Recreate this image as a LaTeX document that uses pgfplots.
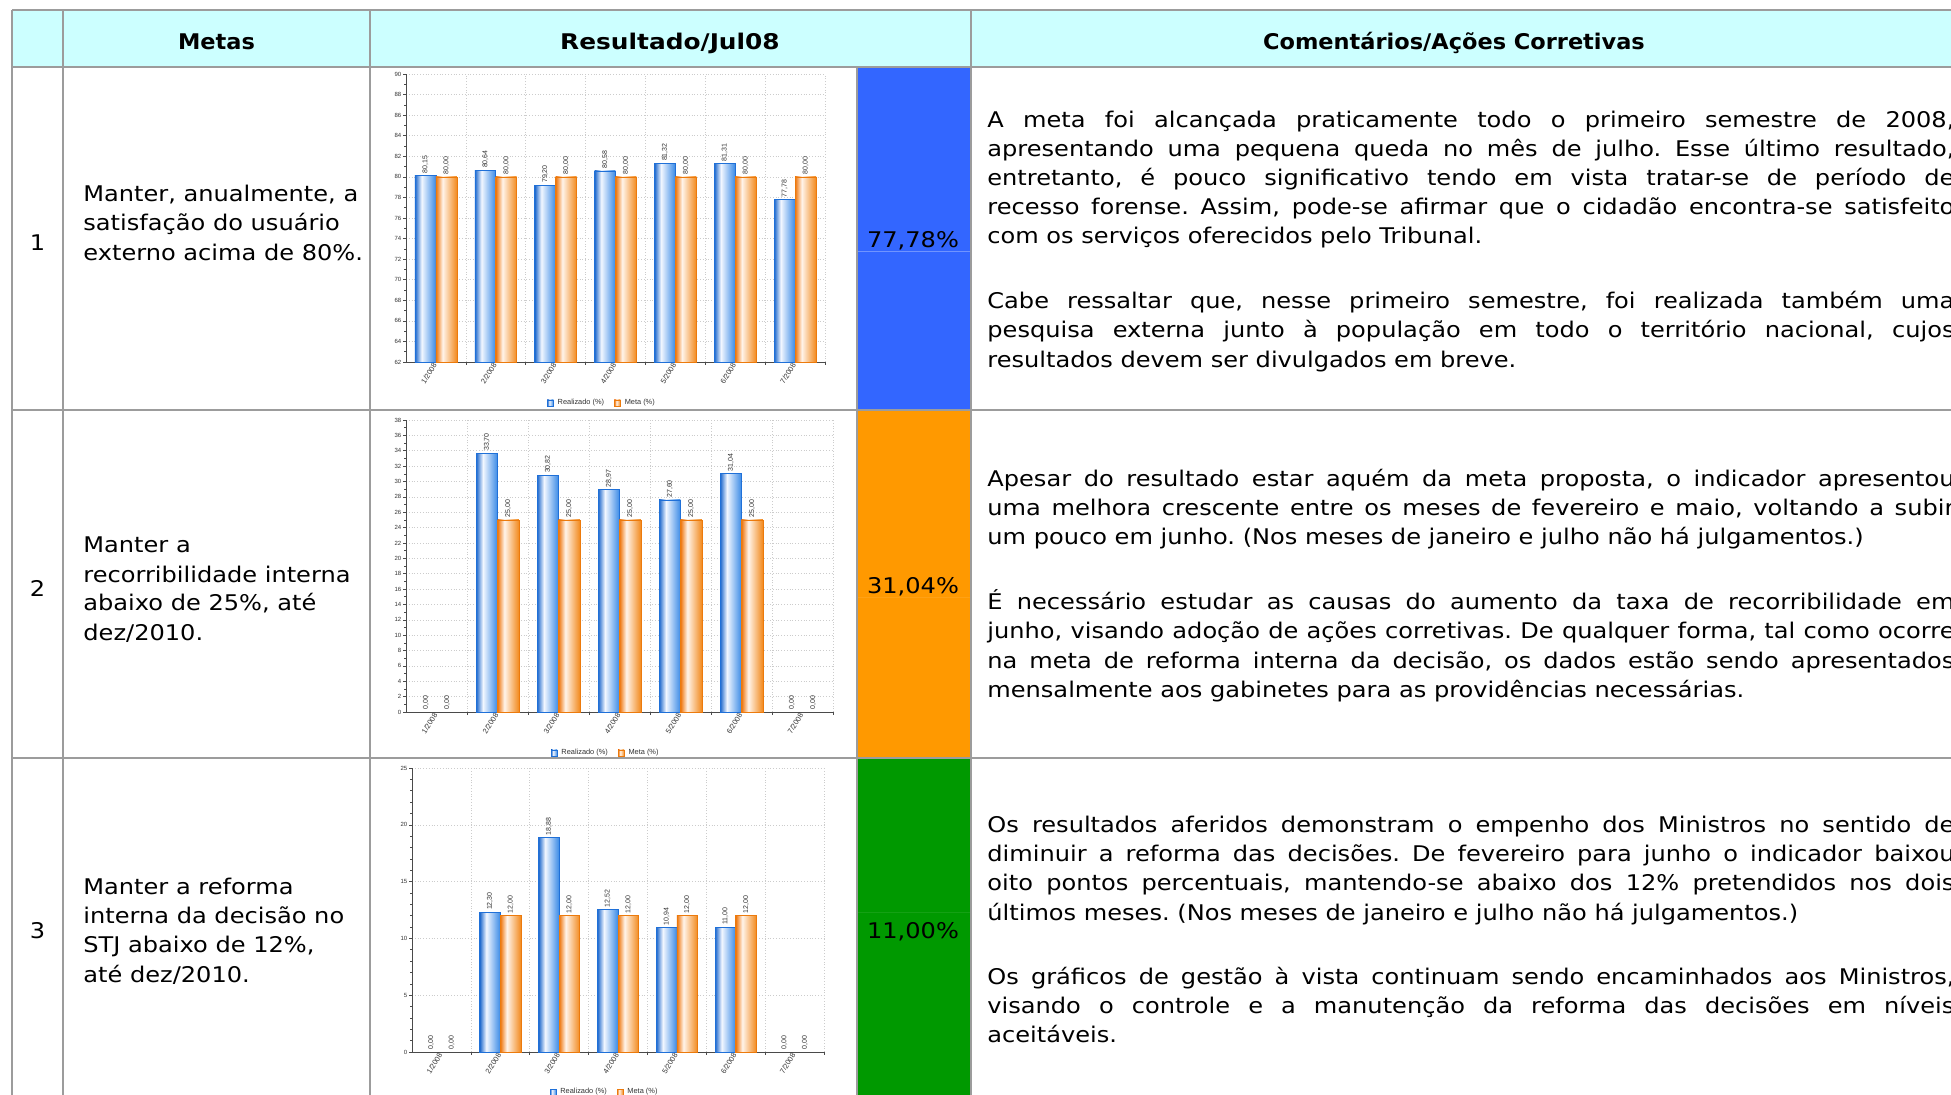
\documentclass[border=0pt]{standalone}
\usepackage{fontspec}
\setmainfont{DejaVu Sans}[FakeStretch=1.115]
\newfontfamily\hdrfont{DejaVu Sans}[FakeStretch=1.04]
\newfontfamily\hdrfontw{DejaVu Sans}[FakeStretch=1.15]
\newfontfamily\chartfont{Liberation Sans}
\usepackage{pgfplots}
\pgfplotsset{compat=1.18}
\definecolor{tline}{HTML}{9C9C9C}
\definecolor{hdr}{HTML}{CCFFFF}
\definecolor{cblue}{HTML}{3366FF}
\definecolor{corange}{HTML}{FF9900}
\definecolor{cgreen}{HTML}{009900}
\definecolor{bbL}{HTML}{1A66CC}
\definecolor{bbR}{HTML}{3A8AE6}
\definecolor{bbE}{HTML}{1F70D8}
\definecolor{bbW}{HTML}{F2F7FF}
\definecolor{boL}{HTML}{EE7308}
\definecolor{boR}{HTML}{F28A1E}
\definecolor{boE}{HTML}{EC7A0C}
\definecolor{boW}{HTML}{FFF4EA}
\definecolor{axdark}{HTML}{4A4A4A}
\definecolor{lab}{HTML}{333333}
\pgfdeclarehorizontalshading{bluebar}{100bp}{color(0bp)=(bbL); color(25bp)=(bbL); color(41bp)=(bbW); color(75bp)=(bbR); color(100bp)=(bbR)}
\pgfdeclarehorizontalshading{orangebar}{100bp}{color(0bp)=(boL); color(25bp)=(boL); color(41bp)=(boW); color(75bp)=(boR); color(100bp)=(boR)}
\newcommand\cf[1]{\chartfont\fontsize{#1}{#1}\selectfont}
\newcommand\tf{\fontsize{10.8}{14.6}\selectfont}
\newcommand\jl[1]{\makebox[483.5pt][s]{#1}}
\newcommand\RB[2]{\addplot[realstyle, forget plot] coordinates {(#1,#2)};}
\newcommand\MB[2]{\addplot[metastyle, forget plot] coordinates {(#1,#2)};}
\newcommand\ZB[2]{\addplot[bar shift=#2, draw=none, fill=none, forget plot] coordinates {(#1,0)};}
\pgfplotsset{
  chartstyle/.style={
    scale only axis, ybar, bar width=0.35,
    /pgf/number format/assume math mode=true,
    xmin=-0.5, xmax=6.5,
    axis x line=bottom, axis y line=left,
    axis line style={-, draw=axdark, line width=0.5pt},
    xtick={0.5,1.5,...,6.5}, xticklabels={},
    xmajorgrids, ymajorgrids,
    grid style={densely dotted, draw=gray!40, line width=0.3pt},
    tick align=outside, major tick length=1.4pt, minor tick length=0.8pt,
    tick style={draw=axdark, line width=0.3pt},
    minor y tick num=1,
    extra x ticks={0,...,6},
    extra x tick labels={1/2008,2/2008,3/2008,4/2008,5/2008,6/2008,7/2008},
    extra x tick style={grid=none, major tick length=0pt,
      tick label style={rotate=58, anchor=east, font={\cf{3.7}}, text=lab, inner sep=0.8pt}},
    yticklabel style={font={\cf{3.0}}, text=lab, inner sep=0.8pt},
    nodes near coords={\pgfmathprintnumber[fixed,fixed zerofill,precision=2,use comma,assume math mode=true]{\pgfplotspointmeta}},
    every node near coord/.append style={rotate=90, anchor=west, font={\cf{3.5}}, text=lab, inner sep=1pt},
    legend columns=2,
    legend style={draw=none, fill=none, anchor=center, font={\cf{3.7}}, text=lab, inner sep=0pt,
      /tikz/every even column/.append style={column sep=3pt}},
    legend image code/.code={\draw[#1] (0pt,-1.5pt) rectangle (3pt,1.5pt);},
  },
  realstyle/.style={bar shift=-0.175, draw=bbE, line width=0.3pt, shading=bluebar},
  metastyle/.style={bar shift=0.175, draw=boE, line width=0.3pt, shading=orangebar},
}
\begin{document}
\frenchspacing
\begin{tikzpicture}[x=1pt,y=1pt]
\useasboundingbox (0,0) rectangle (975.5,-547);
\begin{scope}
\clip (0,0) rectangle (975.5,-547);
\fill[white] (0,0) rectangle (975.5,-547);
\fill[hdr] (6,-5) rectangle (990,-33.5);
\fill[cblue] (428.5,-33.5) rectangle (485.5,-204.75);
\fill[corange] (428.5,-204.75) rectangle (485.5,-379);
\fill[cgreen] (428.5,-379) rectangle (485.5,-560);
\draw[cblue!70!white, line width=0.4pt] (428.5,-125.5) -- (485.5,-125.5);
\draw[corange!92!white, line width=0.4pt] (428.5,-298.5) -- (485.5,-298.5);
\draw[cgreen!92!white, line width=0.4pt] (428.5,-456) -- (485.5,-456);
\begin{scope}[tline, line width=1pt]
\draw (6,-5) -- (990,-5);
\draw (6,-33.5) -- (990,-33.5);
\draw (6,-204.75) -- (990,-204.75);
\draw (6,-379) -- (990,-379);
\draw (6,-5) -- (6,-560);
\draw (31.5,-5) -- (31.5,-560);
\draw (185,-5) -- (185,-560);
\draw (428.5,-33.5) -- (428.5,-560);
\draw (485.5,-5) -- (485.5,-560);
\end{scope}
% header
\node[anchor=base, font=\tf\hdrfont\bfseries] at (108.25,-24.5) {Metas};
\node[anchor=base, font=\tf\hdrfontw\bfseries] at (335,-24.5) {Resultado/Jul08};
\node[anchor=base, font=\tf\hdrfont\bfseries] at (727,-24.5) {Comentários/Ações Corretivas};
% numbers
\node[anchor=base, font=\tf] at (18.75,-125) {1};
\node[anchor=base, font=\tf] at (18.75,-298) {2};
\node[anchor=base, font=\tf] at (18.75,-469) {3};
% values
\node[anchor=base, font=\tf] at (456.5,-123.5) {77,78\%};
\node[anchor=base, font=\tf] at (456.5,-296.5) {31,04\%};
\node[anchor=base, font=\tf] at (456.5,-469) {11,00\%};
% metas
\begin{scope}[every node/.style={anchor=base west, font=\tf, inner sep=0pt}]
\node at (41.5,-100.5) {Manter, anualmente, a};
\node at (41.5,-115.3) {satisfação do usuário};
\node at (41.5,-130) {externo acima de 80\%.};
\node at (41.5,-276.2) {Manter a};
\node at (41.5,-291.1) {recorribilidade interna};
\node at (41.5,-305.4) {abaixo de 25\%, até};
\node at (41.5,-320.3) {dez/2010.};
\node at (41.5,-447) {Manter a reforma};
\node at (41.5,-461.9) {interna da decisão no};
\node at (41.5,-476.2) {STJ abaixo de 12\%,};
\node at (41.5,-491.1) {até dez/2010.};
% comments row 1
\node at (493.5,-63.5) {\jl{A meta foi alcançada praticamente todo o primeiro semestre de 2008,}};
\node at (493.5,-78.1) {\jl{apresentando uma pequena queda no mês de julho. Esse último resultado,}};
\node at (493.5,-92.7) {\jl{entretanto, é pouco significativo tendo em vista tratar-se de período de}};
\node at (493.5,-107.3) {\jl{recesso forense. Assim, pode-se afirmar que o cidadão encontra-se satisfeito}};
\node at (493.5,-121.9) {com os serviços oferecidos pelo Tribunal.};
\node at (493.5,-154.3) {\jl{Cabe ressaltar que, nesse primeiro semestre, foi realizada também uma}};
\node at (493.5,-168.9) {\jl{pesquisa externa junto à população em todo o território nacional, cujos}};
\node at (493.5,-183.5) {resultados devem ser divulgados em breve.};
% comments row 2
\node at (493.5,-243.2) {\jl{Apesar do resultado estar aquém da meta proposta, o indicador apresentou}};
\node at (493.5,-257.8) {\jl{uma melhora crescente entre os meses de fevereiro e maio, voltando a subir}};
\node at (493.5,-272.4) {um pouco em junho. (Nos meses de janeiro e julho não há julgamentos.)};
\node at (493.5,-304.8) {\jl{É necessário estudar as causas do aumento da taxa de recorribilidade em}};
\node at (493.5,-319.4) {\jl{junho, visando adoção de ações corretivas. De qualquer forma, tal como ocorre}};
\node at (493.5,-334.0) {\jl{na meta de reforma interna da decisão, os dados estão sendo apresentados}};
\node at (493.5,-348.6) {mensalmente aos gabinetes para as providências necessárias.};
% comments row 3
\node at (493.5,-416.2) {\jl{Os resultados aferidos demonstram o empenho dos Ministros no sentido de}};
\node at (493.5,-430.8) {\jl{diminuir a reforma das decisões. De fevereiro para junho o indicador baixou}};
\node at (493.5,-445.4) {\jl{oito pontos percentuais, mantendo-se abaixo dos 12\% pretendidos nos dois}};
\node at (493.5,-460.0) {últimos meses. (Nos meses de janeiro e julho não há julgamentos.)};
\node at (493.5,-492.2) {\jl{Os gráficos de gestão à vista continuam sendo encaminhados aos Ministros,}};
\node at (493.5,-506.8) {\jl{visando o controle e a manutenção da reforma das decisões em níveis}};
\node at (493.5,-521.4) {aceitáveis.};
\end{scope}

% chart 1
\begin{axis}[chartstyle, at={(203pt,-181pt)}, anchor=south west,
  width=209.5pt, height=144pt, ymin=62, ymax=90, ytick={62,64,...,90},
  legend style={at={(0.47,-0.142)}}]
\RB{0}{80.15}\RB{1}{80.64}\RB{2}{79.20}\RB{3}{80.58}\RB{4}{81.32}\RB{5}{81.31}\RB{6}{77.78}
\MB{0}{80}\MB{1}{80}\MB{2}{80}\MB{3}{80}\MB{4}{80}\MB{5}{80}\MB{6}{80}
\addlegendimage{draw=bbE, line width=0.3pt, shading=bluebar}
\addlegendentry{Realizado (\%)}
\addlegendimage{draw=boE, line width=0.3pt, shading=orangebar}
\addlegendentry{Meta (\%)}
\node[anchor=east, font={\cf{3.4}\bfseries}, text=lab, inner sep=0pt] at (rel axis cs:1,-0.094) {Mensal};
\end{axis}

% chart 2
\begin{axis}[chartstyle, at={(203pt,-356pt)}, anchor=south west,
  width=213.5pt, height=146pt, ymin=0, ymax=38, ytick={0,2,...,38},
  legend style={at={(0.47,-0.14)}}]
\ZB{0}{-0.175}\RB{1}{33.70}\RB{2}{30.82}\RB{3}{28.97}\RB{4}{27.60}\RB{5}{31.04}\ZB{6}{-0.175}
\ZB{0}{0.175}\MB{1}{25}\MB{2}{25}\MB{3}{25}\MB{4}{25}\MB{5}{25}\ZB{6}{0.175}
\addlegendimage{draw=bbE, line width=0.3pt, shading=bluebar}
\addlegendentry{Realizado (\%)}
\addlegendimage{draw=boE, line width=0.3pt, shading=orangebar}
\addlegendentry{Meta (\%)}
\node[anchor=east, font={\cf{3.4}\bfseries}, text=lab, inner sep=0pt] at (rel axis cs:1,-0.096) {Mensal};
\end{axis}

% chart 3
\begin{axis}[chartstyle, at={(206pt,-526pt)}, anchor=south west,
  width=206pt, height=142pt, ymin=0, ymax=25, ytick={0,5,...,25}, minor y tick num=4,
  legend style={at={(0.47,-0.141)}}]
\ZB{0}{-0.175}\RB{1}{12.30}\RB{2}{18.88}\RB{3}{12.52}\RB{4}{10.94}\RB{5}{11.00}\ZB{6}{-0.175}
\ZB{0}{0.175}\MB{1}{12}\MB{2}{12}\MB{3}{12}\MB{4}{12}\MB{5}{12}\ZB{6}{0.175}
\addlegendimage{draw=bbE, line width=0.3pt, shading=bluebar}
\addlegendentry{Realizado (\%)}
\addlegendimage{draw=boE, line width=0.3pt, shading=orangebar}
\addlegendentry{Meta (\%)}
\node[anchor=east, font={\cf{3.4}\bfseries}, text=lab, inner sep=0pt] at (rel axis cs:1,-0.092) {Mensal};
\end{axis}
\end{scope}
\end{tikzpicture}
\end{document}
